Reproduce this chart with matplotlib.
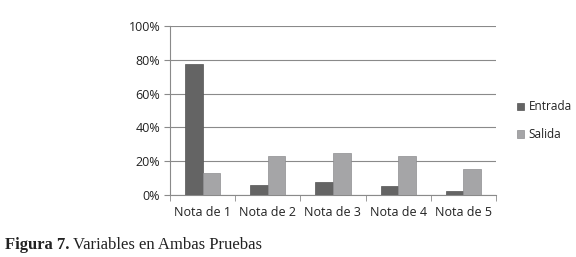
import matplotlib.pyplot as plt
import numpy as np

categories = ["Nota de 1", "Nota de 2", "Nota de 3", "Nota de 4", "Nota de 5"]
entrada = [77.3, 6.1, 7.9, 5.5, 2.4]
salida = [12.8, 23.0, 25.0, 23.0, 15.2]
yticks = [0, 20, 40, 60, 80, 100]


def main():
    fig = plt.figure(figsize=(5.76, 2.57), dpi=100)
    ax = fig.add_axes([0.295, 0.241, 0.566, 0.658])

    x = np.arange(len(categories))
    width = 0.27
    ax.bar(x - width / 2, entrada, width, color="#646464", edgecolor="#555555",
           linewidth=0.5, label="Entrada", zorder=3)
    ax.bar(x + width / 2, salida, width, color="#a5a5a7", edgecolor="#8e8e90",
           linewidth=0.5, label="Salida", zorder=3)

    ax.set_xlim(-0.5, len(categories) - 0.5)
    ax.set_ylim(0, 100)
    ax.set_yticks(yticks)
    ax.set_yticklabels([f"{v}%" for v in yticks])
    ax.yaxis.grid(True, color="#8a8a8a", linewidth=0.8, zorder=0)

    ax.set_xticks(x)
    ax.set_xticklabels(categories)
    ax.set_xticks(np.arange(len(categories) + 1) - 0.5, minor=True)
    ax.tick_params(axis="x", which="major", length=0, pad=8)
    ax.tick_params(axis="x", which="minor", length=4, color="#8a8a8a")
    ax.tick_params(axis="y", length=4, color="#8a8a8a", pad=3)
    ax.tick_params(labelsize=9, labelcolor="#222222")
    for label in ax.get_xticklabels() + ax.get_yticklabels():
        label.set_family("Open Sans")

    for side in ["top", "right"]:
        ax.spines[side].set_visible(False)
    for side in ["left", "bottom"]:
        ax.spines[side].set_color("#8a8a8a")
        ax.spines[side].set_linewidth(0.8)

    ax.legend(loc="center left", bbox_to_anchor=(0.89, 0.53),
              bbox_transform=fig.transFigure, borderaxespad=0, frameon=False,
              prop={"family": "Open Sans", "size": 8.5}, handlelength=0.6,
              handleheight=0.6, labelspacing=1.25, handletextpad=0.35,
              labelcolor="#222222")

    fig.text(0.008, 0.03, "Figura 7.", family="Liberation Serif",
             weight="bold", size=12, color="#222222")
    fig.text(0.127, 0.03, "Variables en Ambas Pruebas",
             family="Liberation Serif", size=12, color="#222222")

    fig.savefig("out.png", dpi=100)


if __name__ == "__main__":
    main()
